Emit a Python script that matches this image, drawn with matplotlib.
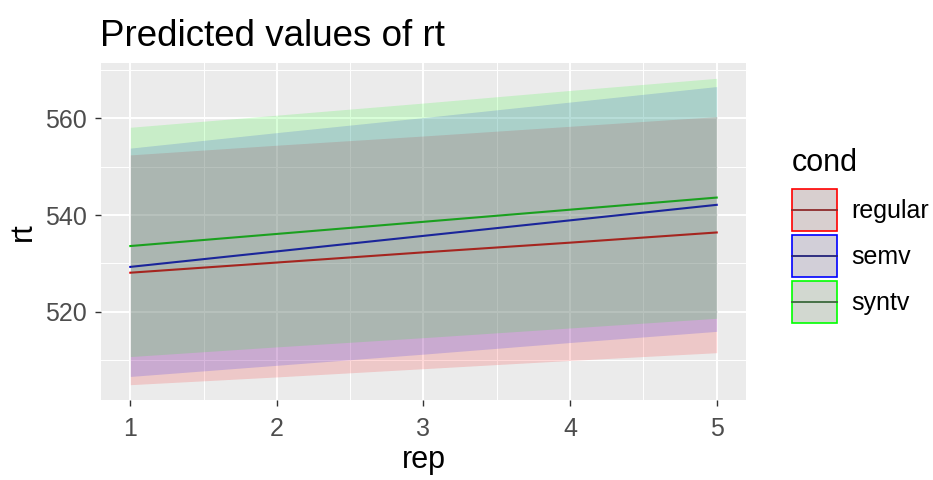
import matplotlib
matplotlib.use('Agg')
import matplotlib.pyplot as plt
from matplotlib.patches import Patch, Rectangle
from matplotlib.lines import Line2D
from matplotlib.legend_handler import HandlerBase

plt.rcParams['font.family'] = ['Liberation Sans', 'DejaVu Sans']

# ---- data ----
rep = [1, 2, 3, 4, 5]
conds = ['regular', 'semv', 'syntv']
pred_regular = [528.1, 530.2, 532.3, 534.3, 536.4]
pred_semv = [529.3, 532.5, 535.7, 538.9, 542.1]
pred_syntv = [533.6, 536.1, 538.6, 541.1, 543.6]
low_regular = [505.0, 506.6, 508.3, 510.0, 511.6]
high_regular = [552.4, 554.4, 556.3, 558.3, 560.3]
low_semv = [506.7, 509.0, 511.3, 513.7, 516.0]
high_semv = [553.8, 557.0, 560.1, 563.3, 566.5]
low_syntv = [510.8, 512.8, 514.7, 516.7, 518.7]
high_syntv = [558.1, 560.6, 563.1, 565.7, 568.2]
x_ticks = [1, 2, 3, 4, 5]
x_minor = [1.5, 2.5, 3.5, 4.5]
y_ticks = [520, 540, 560]
y_minor = [510, 530, 550, 570]

preds = [pred_regular, pred_semv, pred_syntv]
lows = [low_regular, low_semv, low_syntv]
highs = [high_regular, high_semv, high_syntv]
colors = ['#FF0000', '#0000FF', '#00FF00']
line_colors = ['#E00000', '#0000C8', '#00C800']
key_lines = ['#8E2A2A', '#22227A', '#3C6A3C']
key_faces = ['#D8CFCF', '#D2CFD8', '#D2D8D0']


class KeyHandler(HandlerBase):
    def create_artists(self, legend, orig_handle, xdescent, ydescent,
                       width, height, fontsize, trans):
        patch, line = orig_handle
        r = Rectangle((-xdescent, -ydescent), width, height,
                      facecolor=patch.get_facecolor(),
                      edgecolor=patch.get_edgecolor(),
                      lw=patch.get_linewidth(), transform=trans)
        y = -ydescent + height / 2
        ln = Line2D([-xdescent, -xdescent + width], [y, y],
                    color=line.get_color(), lw=line.get_linewidth(),
                    transform=trans)
        return [r, ln]


fig = plt.figure(figsize=(9.33, 4.8), dpi=100)
ax = fig.add_axes([101/933, 1-400/480, (746-101)/933, (400-63)/480])
ax.set_facecolor('#EBEBEB')
for s in ax.spines.values():
    s.set_visible(False)

for p, c in zip(preds, line_colors):
    ax.plot(rep, p, color=c, lw=1.5, zorder=2.5)
for lo, hi, c in zip(lows, highs, colors):
    ax.fill_between(rep, lo, hi, color=c, alpha=0.15, lw=0, zorder=3)

xr = max(rep) - min(rep)
ax.set_xlim(min(rep) - 0.05*xr, max(rep) + 0.05*xr)
ylo = min(min(l) for l in lows)
yhi = max(max(h) for h in highs)
yr = yhi - ylo
ax.set_ylim(ylo - 0.05*yr, yhi + 0.05*yr)

ax.set_xticks(x_ticks)
ax.set_xticks(x_minor, minor=True)
ax.set_yticks(y_ticks)
ax.set_yticks(y_minor, minor=True)
ax.set_axisbelow(True)
ax.grid(which='major', color='white', lw=1.4)
ax.grid(which='minor', color='white', lw=0.7)
ax.tick_params(which='major', length=4, width=1.0, color='#333333',
               labelcolor='#4D4D4D', labelsize=18)
ax.tick_params(axis='x', pad=8)
ax.tick_params(axis='y', pad=6)
ax.tick_params(which='minor', length=0)

ax.set_xlabel('rep', fontsize=22)
ax.xaxis.label.set_va('baseline')
ax.xaxis.set_label_coords(0.5, -(468-400)/337)
ax.set_ylabel('rt', fontsize=22)
ax.yaxis.label.set_va('center')
ax.yaxis.set_label_coords(-(101-23)/645, 0.5)

fig.text(100/933, 1-46/480, 'Predicted values of rt', fontsize=26.5,
         va='baseline', ha='left')

handles = [(Patch(facecolor=f, edgecolor=c, lw=1.2),
            Line2D([], [], color=k, lw=1.3))
           for f, c, k in zip(key_faces, colors, key_lines)]
leg = ax.legend(handles, conds, handler_map={tuple: KeyHandler()},
                title='cond', loc='upper left',
                bbox_to_anchor=(792/933, 1-148/480), bbox_transform=fig.transFigure,
                frameon=False, fontsize=18, title_fontsize=22,
                handlelength=1.8, handleheight=2.21, handletextpad=0.56,
                labelspacing=0.16, borderpad=0, borderaxespad=0, alignment='left')
leg._legend_box.sep = 8

fig.savefig('out.png', dpi=100, facecolor='white')
